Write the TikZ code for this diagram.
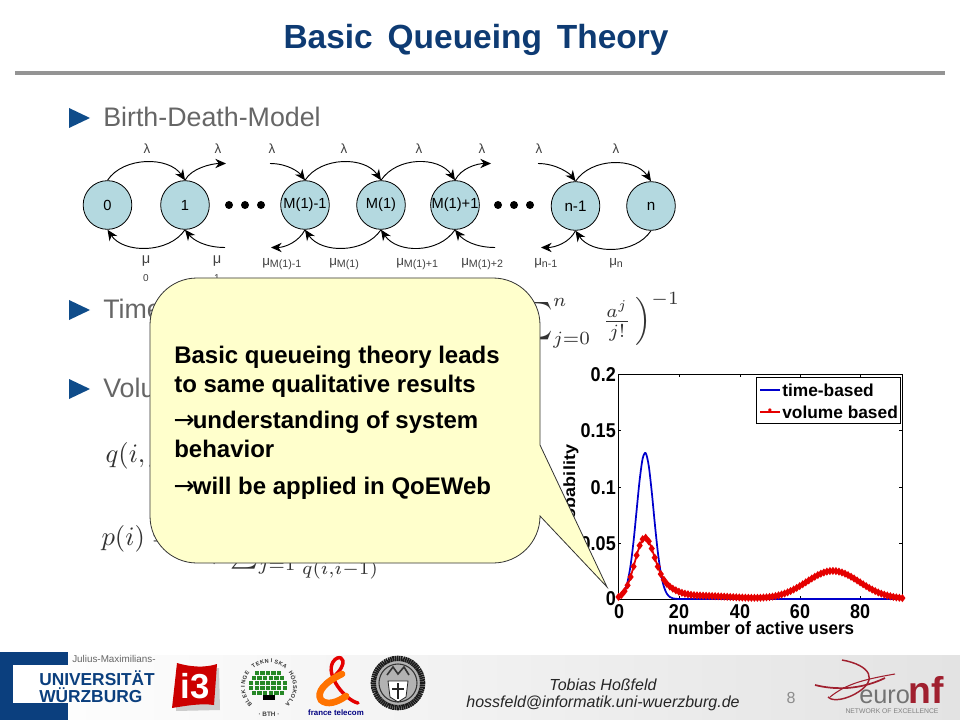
\documentclass[tikz,border=0pt]{standalone}
\usepackage{fontspec}
\setmainfont{Liberation Sans}
\newfontfamily\dejavu{DejaVu Sans}
\usetikzlibrary{arrows.meta,plotmarks}
\definecolor{titleblue}{HTML}{0E3B73}
\definecolor{bulletblue}{HTML}{0F4C8A}
\definecolor{bodygrey}{HTML}{666666}
\definecolor{statefill}{HTML}{B4D9E0}
\definecolor{calloutfill}{HTML}{FFFFCC}
\definecolor{wublue}{HTML}{0B3F7E}
\definecolor{euroRed}{HTML}{A0202F}
\newcommand{\fsz}[1]{\fontsize{#1}{#1}\selectfont}
\tikzset{
  statenode/.style={circle,draw=black,line width=0.6pt,fill=statefill,minimum size=36.5pt,inner sep=0pt,font=\fsz{11}},
  dotnode/.style={circle,fill=black,minimum size=6pt,inner sep=0pt},
  arc/.style={line width=0.7pt,-{Stealth[length=8pt,width=7pt]}},
  lab/.style={font=\fsz{10},text=black!75,inner sep=0pt},
  bullet/.style={fill=bulletblue,draw=none},
  bodytext/.style={font=\fsz{20.1},text=bodygrey,anchor=base west,inner sep=0pt},
  calltext/.style={font=\fsz{18}\bfseries,text=black,anchor=base west,inner sep=0pt},
  plottext/.style={font=\fsz{15}\bfseries,text=black,inner sep=0pt,xscale=0.9},
  legtext/.style={font=\fsz{13}\bfseries,text=black,anchor=west,inner sep=0pt},
  maths/.style={scale=2,inner sep=0pt,text=black!80}
}
\newcommand{\warrow}{{\dejavu\mdseries\fsz{19}\hspace{-0.5pt}→\hspace{-1.5pt}}}
\begin{document}
\begin{tikzpicture}[x=0.75pt,y=-0.75pt]
\useasboundingbox (0,0) rectangle (960,720);
\fill[white] (0,0) rectangle (960,720);
% title
\node[font=\fsz{25.1}\bfseries,text=titleblue,inner sep=0pt] (title) at (476,40) {Basic\, Queueing\, Theory};
\coordinate (ruleL) at (15,73); \coordinate (ruleR) at (945,73);
\draw[line width=2.4pt,color=black!42] (ruleL) -- (ruleR);
% bullets
\fill[bullet] (69,108) -- (90,118) -- (69,128) -- cycle;
\fill[bullet] (69,300) -- (90,310) -- (69,320) -- cycle;
\fill[bullet] (69,379) -- (90,389) -- (69,399) -- cycle;
\node[bodytext] (b1) at (103,127) {Birth-Death-Model};
\node[bodytext] (b2) at (103,319) {Time};
\node[bodytext] (b3) at (103,397) {Volume};
% states
\node[statenode] (n0) at (107.5,205) {0};
\node[statenode] (n1) at (185,205) {1};
\node[statenode] (m0) at (305,205) {M(1)-1};
\node[statenode] (m1) at (381,205) {M(1)};
\node[statenode] (m2) at (455,205) {M(1)+1};
\node[statenode,font=\fsz{11.4}] (n2) at (575.5,206) {n-1};
\node[statenode,font=\fsz{11.4}] (n3) at (651,206) {n};
\node[dotnode] (d1) at (229,205) {}; \node[dotnode] (d2) at (245,205) {}; \node[dotnode] (d3) at (261,205) {};
\node[dotnode] (d4) at (498,205) {}; \node[dotnode] (d5) at (514,205) {}; \node[dotnode] (d6) at (530,205) {};
% free ends
\coordinate (ta) at (226,163.5); \coordinate (tb) at (270,163.5); \coordinate (tc) at (491,163.5); \coordinate (td) at (538,163.5);
\coordinate (ba) at (225,247.5); \coordinate (bb) at (271,247.5); \coordinate (bc) at (495,247.5); \coordinate (bd) at (541,247.5);
% top arcs
\foreach \a/\b in {n0/n1,m0/m1,m1/m2,n2/n3}
  \draw[arc] (\a.north) .. controls +(16,-24) and +(-16,-24) .. (\b.north);
\draw[arc] (n1.north) .. controls +(6,-12) and +(-14,0) .. (ta);
\draw[arc] (m2.north) .. controls +(6,-12) and +(-14,0) .. (tc);
\draw[arc] (tb) .. controls +(18,0) and +(-6,-8) .. (m0.north);
\draw[arc] (td) .. controls +(18,0) and +(-6,-8) .. (n2.north);
% bottom arcs
\foreach \a/\b in {n1/n0,m1/m0,m2/m1,n3/n2}
  \draw[arc] (\a.south) .. controls +(-16,24) and +(16,24) .. (\b.south);
\draw[arc] (ba) .. controls +(-20,0) and +(8,10) .. (n1.south);
\draw[arc] (bc) .. controls +(-20,0) and +(8,10) .. (m2.south);
\draw[arc] (m0.south) .. controls +(-6,12) and +(14,0) .. (bb);
\draw[arc] (n2.south) .. controls +(-6,12) and +(14,0) .. (bd);
% lambda labels
\foreach \n/\x in {l1/147,l2/218,l3/272,l4/344,l5/419,l6/482,l7/539,l8/616}
  \node[lab] (\n) at (\x,149) {λ};
% mu labels
\node[lab,font=\fsz{11}] (u0) at (146,261) {μ};
\node[lab,font=\fsz{7.5}] (u0s) at (146,278) {0};
\node[lab,font=\fsz{11}] (u1) at (217,261) {μ};
\node[lab,font=\fsz{7.5}] (u1s) at (217,278) {1};
\node[lab,anchor=base west] (u2) at (262,266) {μ\raisebox{-1pt}{\fsz{8}M(1)-1}};
\node[lab,anchor=base west] (u3) at (329,266) {μ\raisebox{-1pt}{\fsz{8}M(1)}};
\node[lab,anchor=base west] (u4) at (396,266) {μ\raisebox{-1pt}{\fsz{8}M(1)+1}};
\node[lab,anchor=base west] (u5) at (461,266) {μ\raisebox{-1pt}{\fsz{8}M(1)+2}};
\node[lab,anchor=base west] (u6) at (534,266) {μ\raisebox{-1pt}{\fsz{8}n-1}};
\node[lab,anchor=base west] (u7) at (609,266) {μ\raisebox{-1pt}{\fsz{8}n}};
% formulas
\node[maths,anchor=west] (f1) at (514,320) {$\displaystyle\sum\nolimits_{j=0}^{n}\ {\textstyle\frac{a^j}{j!}}\,\Bigr)^{-1}$};
\node[maths,anchor=base west] (f2) at (105,462) {$q(i,j)$};
\node[maths,anchor=base west] (f3) at (101,545) {$p(i)=$};
\node[maths,anchor=base west] (f4) at (184,562) {$1+\sum\nolimits_{j=1}$};
\node[maths] (f5) at (340,570) {$\scriptstyle q(i,i-1)$};
% plot
\coordinate (pa) at (618,374); \coordinate (pb) at (902,599);
\draw[line width=0.7pt] (pa) rectangle (pb);
\foreach \x in {679,740,800,860}{
  \draw[line width=0.5pt] (\x,599) -- (\x,596);
  \draw[line width=0.5pt] (\x,374) -- (\x,377);}
\foreach \y in {543,487,430}{
  \draw[line width=0.5pt] (618,\y) -- (621,\y);
  \draw[line width=0.5pt] (902,\y) -- (899,\y);}
\draw[color=blue!80!black,line width=1.3pt,smooth,samples=95,domain=0:94]
  plot ({618.5+3.02*\x},{599-1125*0.13*exp(-(\x-8.8)*(\x-8.8)/(2*2.8*2.8))});
\draw[color=red!90!black,line width=1.3pt,mark=diamond*,mark size=2pt,mark options={color=red!90!black},samples=95,domain=0:94]
  plot ({618.5+3.02*\x},{599-1125*(0.049*exp(-(\x-8.5)*(\x-8.5)/(2*3.2*3.2))+0.009*exp(-(\x-14)*(\x-14)/(2*4.5*4.5))+0.003*exp(-(\x-25)*(\x-25)/(2*12*12))+0.025*exp(-(\x-71)*(\x-71)/(2*8.8*8.8)))});
% tick labels
\foreach \n/\t/\y in {ya/0.2/375,yb/0.15/431,yc/0.1/488,yd/0.05/544,ye/0/599}
  \node[plottext,anchor=east] (\n) at (616,\y) {\t};
\foreach \n/\t/\x in {xa/0/619,xb/20/679,xc/40/740,xd/60/800,xe/80/860}
  \node[plottext] (\n) at (\x,612) {\t};
\node[plottext,font=\fsz{13.5}\bfseries,xscale=1.05] (xlab) at (761,628) {number of active users};
\node[plottext,font=\fsz{13.5}\bfseries,xscale=1,rotate=90] (ylab) at (571,491) {probability};
% legend
\node[draw=black,fill=white,line width=0.7pt,minimum width=108pt,minimum height=34.5pt,inner sep=0pt] (leg) at (828,400) {};
\coordinate (la) at (760,390); \coordinate (lb) at (780,390); \coordinate (lc) at (760,412); \coordinate (ld) at (780,412);
\draw[color=blue!80!black,line width=1.3pt] (la) -- (lb);
\draw[color=red!90!black,line width=1.3pt] (lc) -- (ld);
\node[color=red!90!black,font=\fsz{9}] (lm) at (770,412) {\textbullet};
\node[legtext] (lt1) at (782,390) {time-based};
\node[legtext] (lt2) at (782,412) {volume based};
% callout
\draw[fill=calloutfill,draw=black!80,line width=0.6pt]
  (197,278) -- (493,278) .. controls (519,278) and (540,299) .. (540,325)
  -- (540,445) -- (607,587) -- (540,516)
  .. controls (540,542) and (519,563) .. (493,563)
  -- (197,563) .. controls (171,563) and (150,542) .. (150,516)
  -- (150,325) .. controls (150,299) and (171,278) .. (197,278) -- cycle;
\node[calltext] (c1) at (174,363) {Basic queueing theory leads};
\node[calltext] (c2) at (174,392) {to same qualitative results};
\node[calltext] (c3) at (174,428) {\warrow understanding of system};
\node[calltext] (c4) at (174,457) {behavior};
\node[calltext] (c5) at (174,494) {\warrow will be applied in QoEWeb};
% footer
\shade[left color=white,right color=black!11] (0,655) rectangle (960,720);
\node[font=\fsz{12}\itshape,text=black!85,inner sep=0pt] (fa) at (603,685) {Tobias Hoßfeld};
\node[font=\fsz{12}\itshape,text=black!85,inner sep=0pt] (fb) at (603,703) {hossfeld@informatik.uni-wuerzburg.de};
\node[font=\fsz{12},text=black!45,inner sep=0pt] (fc) at (791,698) {8};
% Wuerzburg logo
\fill[wublue] (0,652) rectangle (68,720);
\fill[white] (13,665) rectangle (68,703);
\node[font=\fsz{7.4},text=black!60,anchor=west,inner sep=0pt] (w1) at (72,658.5) {Julius-Maximilians-};
\node[font=\fsz{13}\bfseries,text=wublue,anchor=west,inner sep=0pt] (w2) at (39,678) {UNIVERSITÄT};
\node[font=\fsz{13}\bfseries,text=wublue,anchor=west,inner sep=0pt] (w3) at (39,695) {WÜRZBURG};
% i3 logo
\fill[black!20] (176,668) -- (219,668) -- (220,710) -- (176,711) -- cycle;
\fill[red!80!black] (177,663) .. controls (190,667) and (205,668) .. (217,664) -- (214,705) .. controls (200,703) and (185,706) .. (172,708) -- cycle;
\node[font=\fsz{26}\bfseries,text=white,inner sep=0pt] (i3) at (195,686) {i3};
% BTH logo
\foreach \c [count=\i] in {B,L,E,K,I,N,G,E, ,T,E,K,N,I,S,K,A, ,H,Ö,G,S,K,O,L,A}{
  \pgfmathsetmacro{\ang}{222-(\i-1)*10.6}
  \node[font=\fsz{4.2}\bfseries,text=black!80,inner sep=0pt,rotate=\ang-90] (bc\i) at ({269+26*cos(\ang)},{687-26*sin(\ang)}) {\c};
}
\foreach \row/\xs/\ys in {0/5/671,1/6/676,2/7/681,3/7/686,4/6/691}{
  \foreach \k in {1,...,\xs}
    \fill[green!45!black!85] ({268+(\k-1-(\xs-1)/2)*5.6-2.2},\ys) rectangle ++(4.4,4);
}
\fill[black] (263,695) rectangle (275,700);
\node[font=\fsz{4.8}\bfseries,text=black!75,inner sep=0pt] (bthl) at (269,714) {· BTH ·};
% France Telecom logo
\draw[color=red!90!black,line width=2.6pt,line cap=round] (358,703) .. controls (345,700) and (325,675) .. (333,662) .. controls (338,654) and (346,658) .. (342,666) .. controls (340,672) and (332,678) .. (326,684);
\draw[color=orange!90!red,line width=5pt,line cap=round] (342,674) .. controls (325,682) and (316,692) .. (321,700) .. controls (327,706) and (338,702) .. (346,696);
\node[font=\fsz{5.9}\bfseries,text=blue!50!black,inner sep=0pt] (ft) at (336,713) {france telecom};
% Seal
\node[circle,draw=black!90,line width=4pt,dash pattern=on 1.2pt off 0.4pt,minimum size=37pt,inner sep=0pt,fill=black!30] (seal) at (398,683) {};
\draw[black!80,line width=0.8pt] (seal.center) circle (19);
\draw[black!85,line width=0.6pt,fill=white] (388,681) -- (408,681) -- (406,697) -- (398,702) -- (390,697) -- cycle;
\draw[black!85,line width=1pt] (398,683) -- (398,699) (392,689) -- (404,689);
\draw[black!80,line width=1.2pt] (387,675) -- (393,667) -- (398,674) -- (404,667) -- (409,675);
% EuroNF logo
\node[font=\fsz{19},text=black!55,anchor=base west,inner sep=0pt] (eu) at (859,703) {euro};
\node[font=\fsz{28}\bfseries,text=euroRed,anchor=base west,inner sep=0pt] (nf) at (908,703) {nf};
\node[font=\fsz{5.1},text=black!50,inner sep=0pt] (enf) at (892,711) {NETWORK OF EXCELLENCE};
\draw[euroRed,line width=1.3pt] (815,685) .. controls (835,690) and (860,690) .. (885,678);
\draw[euroRed,line width=1.1pt] (842,660) .. controls (870,665) and (880,680) .. (855,694) .. controls (840,702) and (830,700) .. (828,697);
\draw[euroRed,line width=0.8pt] (830,697) .. controls (845,685) and (860,680) .. (895,674);
\end{tikzpicture}
\end{document}
